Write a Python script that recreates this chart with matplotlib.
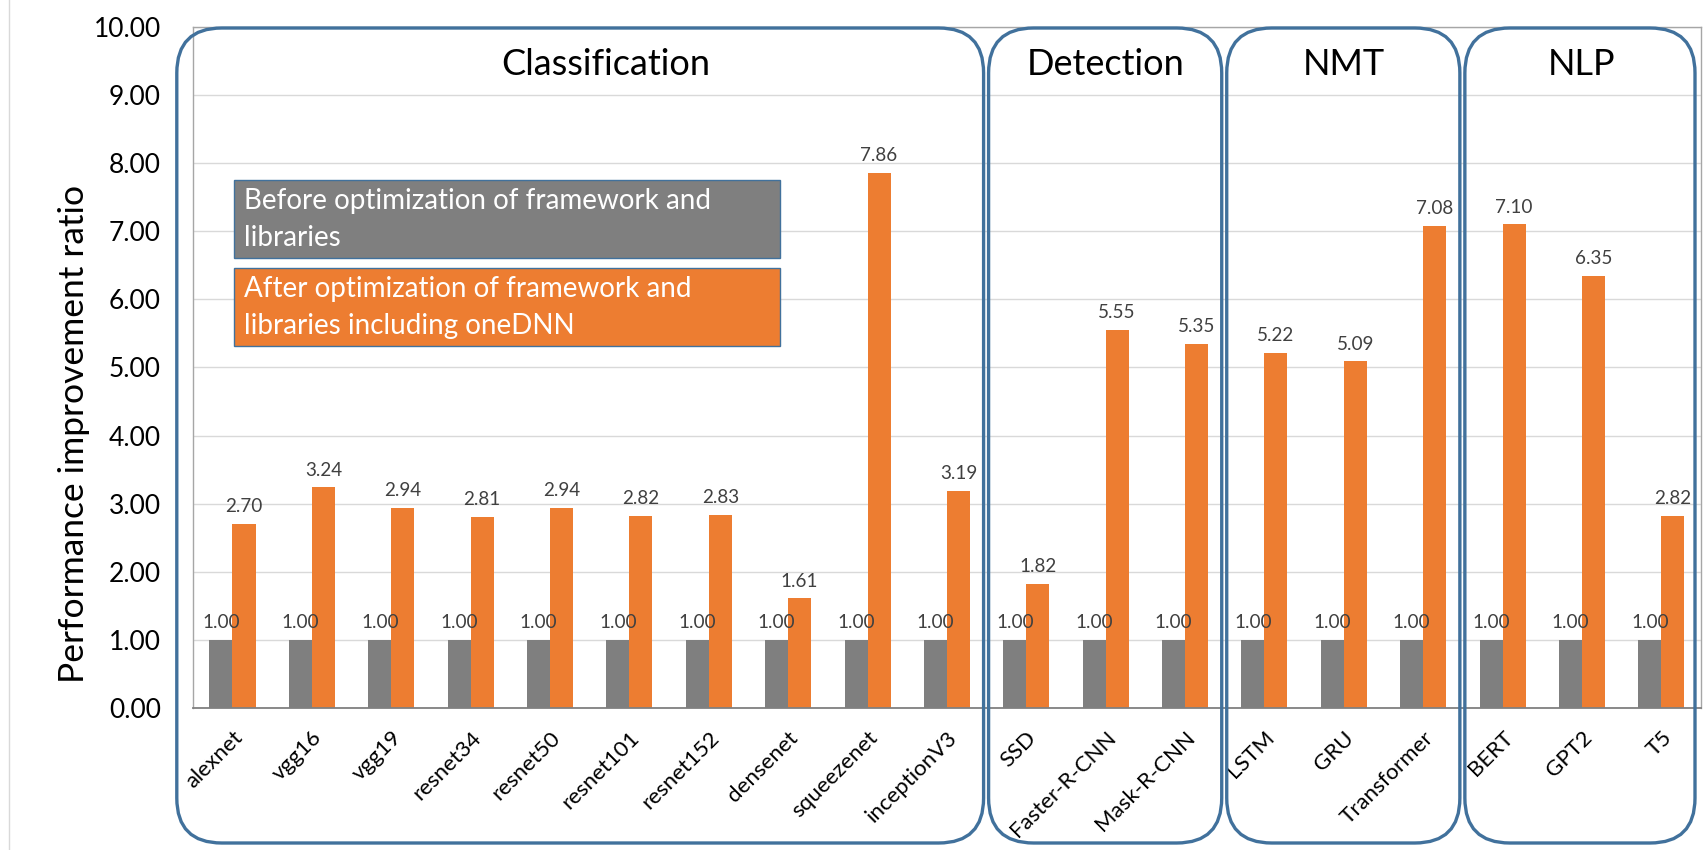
import numpy as np
import matplotlib
matplotlib.use("Agg")
import matplotlib.pyplot as plt
from matplotlib.patches import FancyBboxPatch, Rectangle

plt.rcParams['font.family'] = ['Lato', 'DejaVu Sans']

# ---- data -------------------------------------------------------------
categories = ["alexnet", "vgg16", "vgg19", "resnet34", "resnet50", "resnet101",
              "resnet152", "densenet", "squeezenet", "inceptionV3",
              "SSD", "Faster-R-CNN", "Mask-R-CNN",
              "LSTM", "GRU", "Transformer",
              "BERT", "GPT2", "T5"]
before = [1.00] * 19
after = [2.70, 3.24, 2.94, 2.81, 2.94, 2.82, 2.83, 1.61, 7.86, 3.19,
         1.82, 5.55, 5.35,
         5.22, 5.09, 7.08,
         7.10, 6.35, 2.82]
group_names = ["Classification", "Detection", "NMT", "NLP"]
group_sizes = [10, 3, 3, 3]
series_labels = ["Before optimization of framework and\nlibraries",
                 "After optimization of framework and\nlibraries including oneDNN"]
y_ticks = np.arange(0, 11, 1)

GRAY = "#7F7F7F"
ORANGE = "#ED7D31"
BLUE = "#41719C"

W, H = 1703, 850
fig = plt.figure(figsize=(W / 100, H / 100), dpi=100)
fig.patch.set_facecolor("white")

# plot area (pixel geometry)
pl, pr, pt, pb = 192.8, 1701.0, 27.0, 708.0
ax = fig.add_axes([pl / W, 1 - pb / H, (pr - pl) / W, (pb - pt) / H])
ax.set_xlim(-0.5, len(categories) - 0.5)
ax.set_ylim(0, 10)

x = np.arange(len(categories))
bw = 0.29
ax.bar(x - bw / 2, before, bw, color=GRAY, zorder=2)
ax.bar(x + bw / 2, after, bw, color=ORANGE, zorder=2)

for xs, vals in ((x - bw / 2, before), (x + bw / 2, after)):
    for xi, v in zip(xs, vals):
        ax.annotate(f"{v:.2f}", (xi, v), xytext=(0, 8.5), textcoords="offset points",
                    ha="center", va="baseline", fontsize=13.6, color="#404040", zorder=5)

ax.set_yticks(y_ticks)
ax.set_yticklabels([f"{v:.2f}" for v in y_ticks], fontsize=19)
ax.yaxis.grid(True, color="#D9D9D9", lw=1, zorder=0)
ax.set_axisbelow(True)
ax.tick_params(axis="y", length=0, pad=23)
ax.set_xticks(x)
ax.set_xticklabels(categories, rotation=45, ha="right", va="top",
                   rotation_mode="anchor", fontsize=16)
ax.tick_params(axis="x", length=0, pad=14)

for side in ("left", "top", "right"):
    ax.spines[side].set_color("#A6A6A6")
    ax.spines[side].set_linewidth(1)
ax.spines["bottom"].set_color("#808080")
ax.spines["bottom"].set_linewidth(1.3)

fig.text(74 / W, 1 - 434 / H, "Performance improvement ratio", rotation=90,
         ha="center", va="center", fontsize=25.5, color="black")

# ---- overlay in pixel units for group frames and the legend ------------
ov = fig.add_axes([0, 0, 1, 1], zorder=10)
ov.set_xlim(0, W)
ov.set_ylim(H, 0)
ov.axis("off")
ov.patch.set_alpha(0)

ov.plot([9, 9], [0, H], color="#D9D9D9", lw=1)

def xpix(xd):
    return ax.transData.transform((xd, 0))[0]

box_top, box_bot = 28, 843
title_shift = [0.2, 0, 0, 0]
start = 0
for gi, (name, n) in enumerate(zip(group_names, group_sizes)):
    end = start + n - 1
    left = xpix(start - 0.5) + (2 if gi > 0 else -16)
    right = xpix(end + 0.5) - (3 if gi < len(group_sizes) - 1 else 6)
    ov.add_patch(FancyBboxPatch((left, box_top), right - left, box_bot - box_top,
                                boxstyle="round,pad=0,rounding_size=45",
                                fill=False, ec=BLUE, lw=2.4))
    tx = xpix((start + end) / 2 + title_shift[gi])
    ov.text(tx, 75, name, ha="center", va="baseline", fontsize=26, color="black")
    start = end + 1

for top, fc, label in ((180, GRAY, series_labels[0]), (268, ORANGE, series_labels[1])):
    ov.add_patch(Rectangle((234, top), 546, 78, fc=fc, ec=BLUE, lw=1))
    for li, line in enumerate(label.split("\n")):
        ov.text(244, top + 29 + 37 * li, line, ha="left", va="baseline",
                fontsize=20, color="white")

fig.savefig("out.png", dpi=100, facecolor="white")
